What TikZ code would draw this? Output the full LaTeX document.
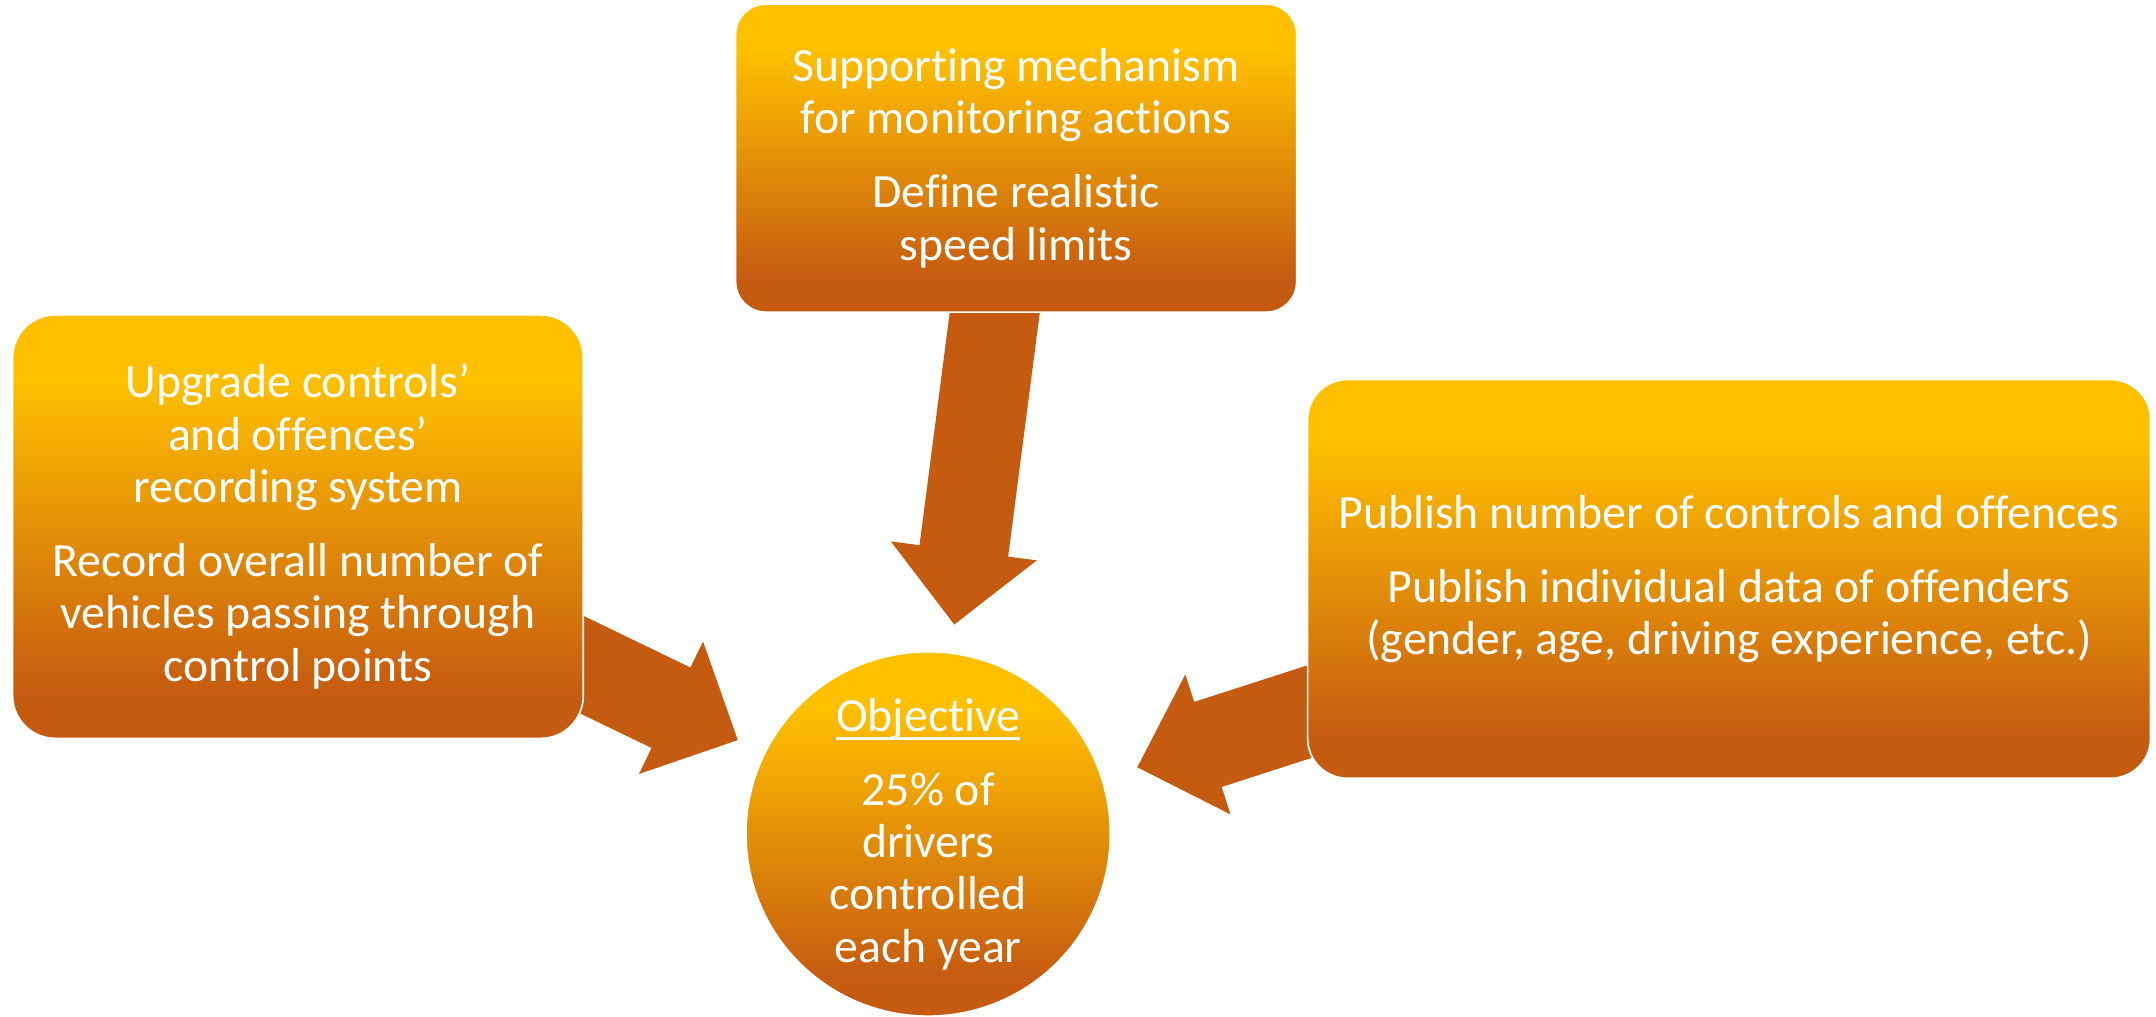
\documentclass[tikz,border=0pt]{standalone}
\usepackage{fontspec}
\setmainfont{Carlito}[Ligatures=NoCommon]
\usetikzlibrary{calc,backgrounds}
\definecolor{gtop}{HTML}{FFC000}
\definecolor{gbot}{HTML}{C55A11}
\definecolor{arrowcol}{HTML}{C55A11}
\pgfdeclareverticalshading{boxgrad}{100bp}{color(0bp)=(gbot); color(30bp)=(gbot); color(67.5bp)=(gtop); color(100bp)=(gtop)}
\newcommand\ulinetxt[1]{\setbox0\hbox{#1}\rlap{\rule[-6.5pt]{\wd0}{2pt}}\box0}
\newcommand\blockarrow[2]{%
  \coordinate (hb) at ($(#2)!54pt!(#1)$);
  \fill[arrowcol] ($(#1)!32.5pt!90:(#2)$) -- ($(hb)!32.5pt!90:(#2)$) -- ($(hb)!53.5pt!90:(#2)$) -- (#2)
    -- ($(hb)!53.5pt!-90:(#2)$) -- ($(hb)!32.5pt!-90:(#2)$) -- ($(#1)!32.5pt!-90:(#2)$) -- cycle;}
\tikzset{
  box/.style={shading=boxgrad, draw=white, line width=1.2pt, text=white, align=center,
    inner sep=0pt, font=\fontsize{34.7}{38}\selectfont},
}
\begin{document}
\begin{tikzpicture}[x=1pt,y=-1pt]
\useasboundingbox (0,0) rectangle (1568,739);
\node[box, rounded corners=22pt, minimum width=408pt, minimum height=224pt] (top) at (739,115)
  {Supporting mechanism\\for monitoring actions\\[16pt]Define realistic\\speed limits};
\node[box, rounded corners=31pt, minimum width=415pt, minimum height=308pt] (left) at (216.7,383)
  {Upgrade controls’\\and offences’\\recording system\\[16pt]Record overall number of\\vehicles passing through\\control points};
\node[box, rounded corners=29pt, minimum width=613pt, minimum height=290pt] (right) at (1257.5,421)
  {Publish number of controls and offences\\[16pt]Publish individual data of offenders\\(gender, age, driving experience, etc.)};
\node[box, circle, minimum size=265pt] (obj) at (675,606.5)
  {\ulinetxt{Objective}\\[16pt]25\% of\\drivers\\controlled\\each year};
\coordinate (ta-s) at (727,200);
\coordinate (ta-e) at (694,454.2);
\coordinate (la-s) at (400,472.2);
\coordinate (la-e) at (536.6,538.2);
\coordinate (ra-s) at (980,508.6);
\coordinate (ra-e) at (827.1,558);
\begin{pgfonlayer}{background}
\blockarrow{ta-s}{ta-e}
\blockarrow{la-s}{la-e}
\blockarrow{ra-s}{ra-e}
\end{pgfonlayer}
\end{tikzpicture}
\end{document}
